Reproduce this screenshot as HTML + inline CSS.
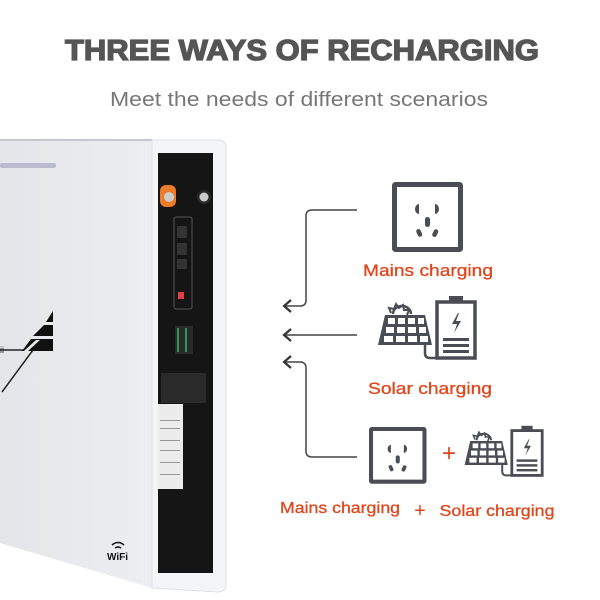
<!DOCTYPE html>
<html><head><meta charset="utf-8"><style>
html,body{margin:0;padding:0;background:#fff;width:600px;height:600px;overflow:hidden}
</style></head><body>
<svg width="600" height="600" viewBox="0 0 600 600" xmlns="http://www.w3.org/2000/svg" font-family="Liberation Sans, sans-serif">
<defs>
<g id="sock">
<rect x="2.5" y="2.5" width="66" height="65" fill="none" stroke="#4a4d55" stroke-width="5" rx="1"/>
<path d="M27 22 a4 5 0 0 0 0 10z" fill="#4a4d55"/>
<path d="M43 22 a4 5 0 0 1 0 10z" fill="#4a4d55"/>
<rect x="33" y="35" width="5" height="10" rx="2.5" fill="#4a4d55"/>
<rect x="25" y="47" width="4.5" height="8" rx="2.2" fill="#4a4d55" transform="rotate(-25 27 51)"/>
<rect x="41" y="47" width="4.5" height="8" rx="2.2" fill="#4a4d55" transform="rotate(25 43 51)"/>
</g>
<g id="solar">
<path d="M15 23 l-2 -5 l5 1 l2 -5 l3 4 l4 -3 l1 5 l5 0 l-2 5" fill="none" stroke="#4a4d55" stroke-width="2"/>
<path d="M17 24 a9 8 0 0 1 18 0" fill="none" stroke="#4a4d55" stroke-width="2.5"/>
<path d="M9 25 L49 25 L56 55 L2 55 Z" fill="#4a4d55"/>
<g fill="#fff">
<rect x="12" y="28" width="7" height="6"/><rect x="22" y="28" width="7" height="6"/><rect x="32" y="28" width="7" height="6"/><rect x="42" y="28" width="6" height="6"/>
<rect x="10" y="37" width="8" height="6"/><rect x="21" y="37" width="8" height="6"/><rect x="32" y="37" width="8" height="6"/><rect x="43" y="37" width="7" height="6"/>
<rect x="8" y="46" width="9" height="6"/><rect x="20" y="46" width="9" height="6"/><rect x="32" y="46" width="9" height="6"/><rect x="44" y="46" width="8" height="6"/>
</g>
<path d="M49 55 v8 q0 5 5 5 h6" fill="none" stroke="#4a4d55" stroke-width="2.5"/>
<rect x="61" y="12" width="38" height="56" fill="none" stroke="#4a4d55" stroke-width="3.5"/>
<rect x="73" y="6" width="14" height="6" fill="#4a4d55"/>
<path d="M82 23 l-6 11 h5 l-3 9 l7 -12 h-5 l3 -8z" fill="#4a4d55"/>
<rect x="67" y="48" width="26" height="3" fill="#4a4d55"/><rect x="67" y="54" width="26" height="3" fill="#4a4d55"/><rect x="67" y="60" width="26" height="3" fill="#4a4d55"/>
</g>
<linearGradient id="front" x1="0" x2="1"><stop offset="0" stop-color="#e4e5ea"/><stop offset="1" stop-color="#eceef1"/></linearGradient>
</defs>

<text x="302" y="60" text-anchor="middle" font-size="29" font-weight="bold" fill="#555" stroke="#555" stroke-width="1.3" textLength="474" lengthAdjust="spacingAndGlyphs">THREE WAYS OF RECHARGING</text>
<text x="299" y="106" text-anchor="middle" font-size="20" fill="#777" textLength="378" lengthAdjust="spacingAndGlyphs">Meet the needs of different scenarios</text>

<!-- product -->
<path d="M0 140 L152 140 L152 588 L0 543 Z" fill="url(#front)"/>
<path d="M0 140 L152 140" stroke="#c5c8cf" stroke-width="2"/>
<rect x="0" y="163" width="56" height="5" rx="2" fill="#b8bccc"/>
<path d="M152 140 L218 140 Q226 140 226 148 L226 585 Q226 592 218 592 L152 588 Z" fill="#f4f5f7" stroke="#dfe1e5"/>
<rect x="158" y="153" width="55" height="420" fill="#151515"/>
<rect x="160" y="185" width="16" height="22" rx="6" fill="#ee7b2a"/>
<circle cx="169" cy="197" r="5" fill="#ccc"/>
<circle cx="204" cy="197" r="7" fill="#2a2a2a"/><circle cx="204" cy="197" r="4.5" fill="#ccc"/>
<rect x="174" y="217" width="18" height="92" rx="2" fill="none" stroke="#555"/>
<rect x="177" y="226" width="10" height="12" fill="#333"/><rect x="177" y="243" width="10" height="12" fill="#333"/><rect x="177" y="259" width="10" height="10" fill="#333"/>
<rect x="178" y="292" width="6" height="7" fill="#e04040"/>
<rect x="175" y="326" width="18" height="28" fill="#2a2a2a"/>
<rect x="177" y="328" width="2" height="24" fill="#2a9a5a"/><rect x="185" y="328" width="2" height="24" fill="#2a9a5a"/>
<rect x="161" y="373" width="45" height="30" fill="#2a2a2a"/>
<rect x="158" y="404" width="25" height="85" fill="#ececec"/>
<g fill="#999"><rect x="160" y="420" width="20" height="1"/><rect x="160" y="428" width="20" height="1"/><rect x="160" y="440" width="20" height="1"/><rect x="160" y="450" width="20" height="1"/><rect x="160" y="462" width="20" height="1"/><rect x="160" y="474" width="20" height="1"/></g>
<path d="M0 350 L33 350 L2 392" fill="none" stroke="#222" stroke-width="1.5"/>
<text x="0" y="353" font-size="9" fill="#222">ii</text>
<g fill="#111">
<path d="M46 322 L53 311 L53 322 Z"/>
<path d="M33 336 L44 325 L53 325 L53 336 Z"/>
<path d="M22 351 L31 339 L53 339 L53 351 Z"/>
<path d="M36 340 L40 340 L28 351 L24 351 Z" fill="#e8e9ec"/>
</g>
<text x="107" y="560" font-size="10" font-weight="bold" fill="#111">WiFi</text>
<path d="M112 545 q6 -5 12 0 M115 548 q3 -2 6 0" fill="none" stroke="#111" stroke-width="1.5"/>

<!-- arrows -->
<g fill="none" stroke="#444" stroke-width="1.5">
<path d="M357 210 H312 Q306 210 306 216 V300 Q306 306 300 306 H284"/>
<path d="M357 335 H284"/>
<path d="M357 457 H312 Q306 457 306 451 V368 Q306 362 300 362 H284"/>
</g>
<g fill="none" stroke="#333" stroke-width="2.2">
<path d="M291 300 L284 306 L291 312 M291 329 L284 335 L291 341 M291 356 L284 362 L291 368"/>
</g>

<use href="#sock" x="392" y="182"/>
<text x="428" y="276" text-anchor="middle" font-size="17" fill="#e0461c" stroke="#e0461c" stroke-width="0.3" textLength="130" lengthAdjust="spacingAndGlyphs">Mains charging</text>
<use href="#solar" transform="translate(376 290) scale(1.0)"/>
<text x="430" y="394" text-anchor="middle" font-size="17" fill="#e0461c" stroke="#e0461c" stroke-width="0.3" textLength="124" lengthAdjust="spacingAndGlyphs">Solar charging</text>
<g transform="translate(369 427) scale(0.81)"><use href="#sock"/></g>
<text x="449" y="461" text-anchor="middle" font-size="24" fill="#e0461c">+</text>
<use href="#solar" transform="translate(463 421) scale(0.8)"/>
<text x="340" y="513" text-anchor="middle" font-size="16" fill="#e0461c" stroke="#e0461c" stroke-width="0.3" textLength="120" lengthAdjust="spacingAndGlyphs">Mains charging</text>
<text x="420" y="517" text-anchor="middle" font-size="20" fill="#e0461c">+</text>
<text x="497" y="516" text-anchor="middle" font-size="16" fill="#e0461c" stroke="#e0461c" stroke-width="0.3" textLength="115" lengthAdjust="spacingAndGlyphs">Solar charging</text>
</svg>
</body></html>
